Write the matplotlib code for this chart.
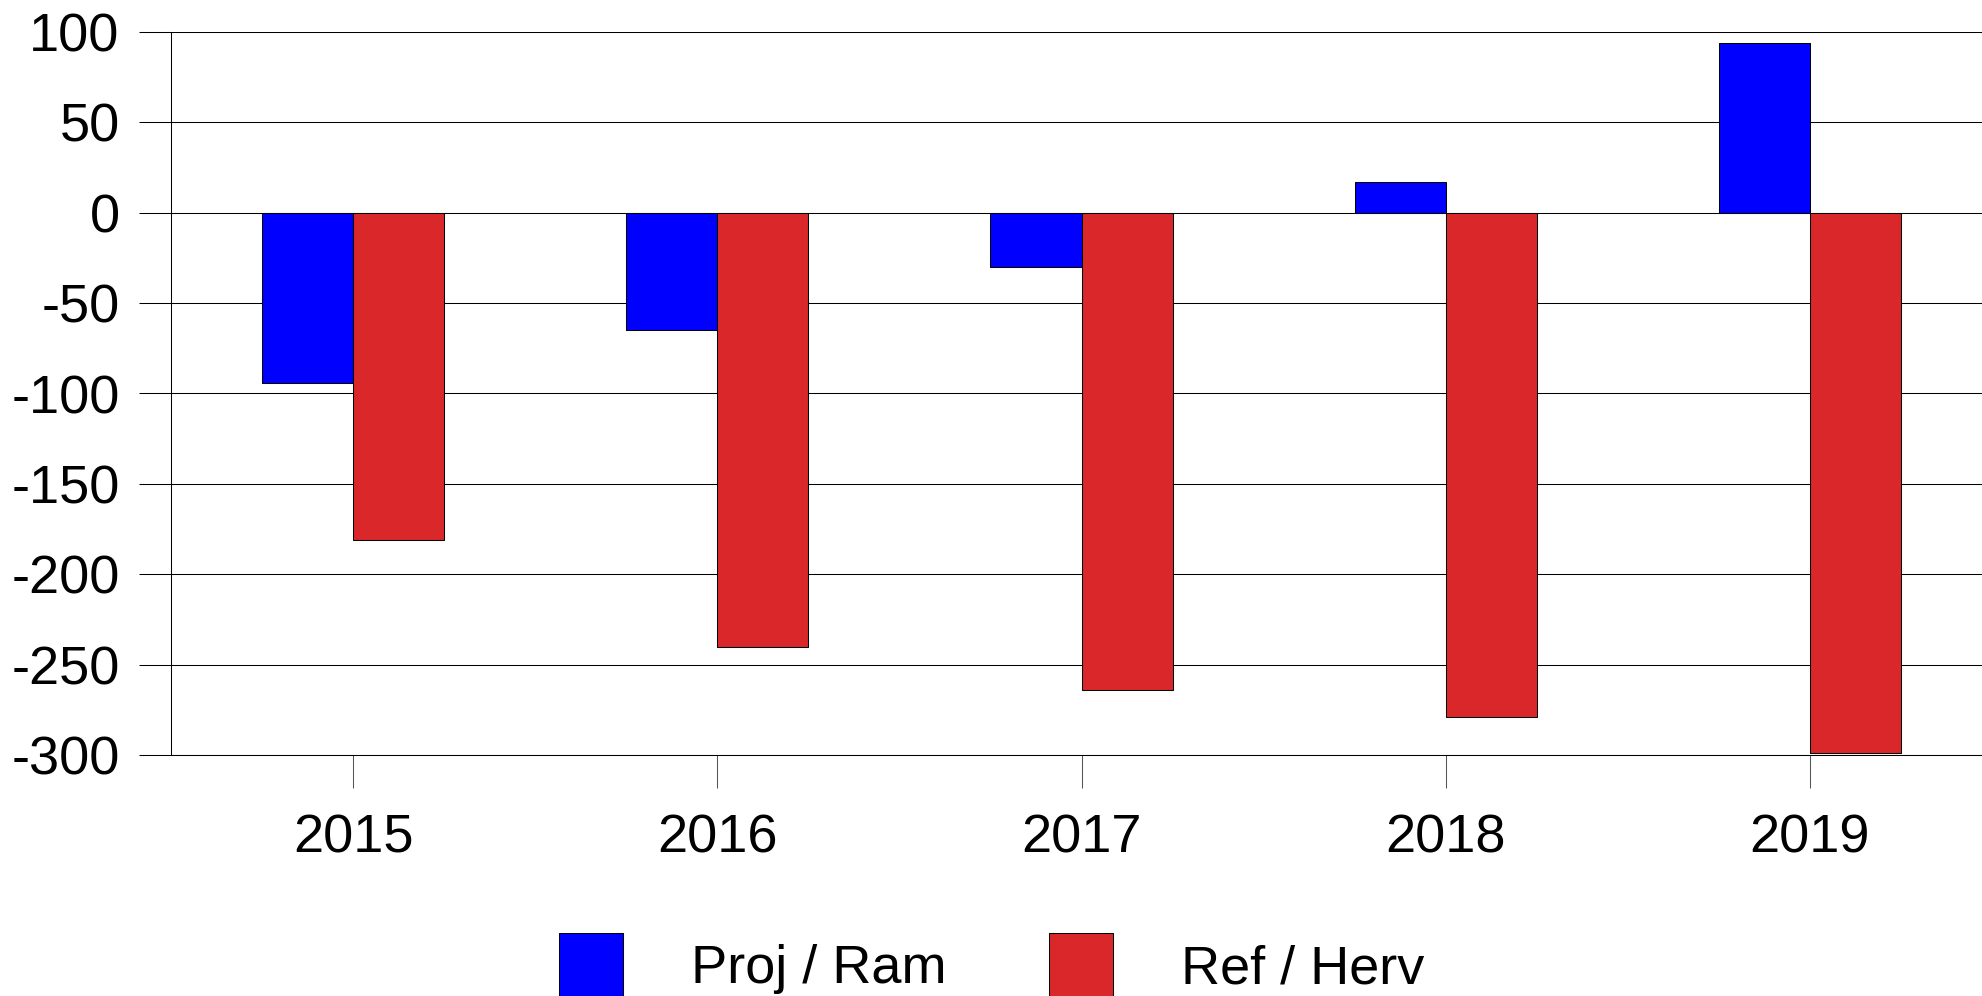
import numpy as np
import matplotlib
matplotlib.use("Agg")
import matplotlib.pyplot as plt
from matplotlib.patches import Patch

# data
years = ["2015", "2016", "2017", "2018", "2019"]
proj_ram = [-94, -65, -30, 17, 94]
ref_herv = [-181, -240, -264, -279, -299]
series_names = ["Proj / Ram", "Ref / Herv"]
y_ticks = [100, 50, 0, -50, -100, -150, -200, -250, -300]

plt.rcParams["font.family"] = ["Liberation Sans", "DejaVu Sans"]
plt.rcParams["axes.unicode_minus"] = False

fig = plt.figure(figsize=(19.83, 9.96), dpi=100)
ax = fig.add_axes([171 / 1983, 1 - 755 / 996, 1 - 171 / 1983, (755 - 32) / 996])

x = np.arange(len(years))
w = 0.25
blue = "#0000ff"
red = "#d9272a"
ax.bar(x - w / 2, proj_ram, w, color=blue, edgecolor="black", linewidth=0.75, zorder=3)
ax.bar(x + w / 2, ref_herv, w, color=red, edgecolor="black", linewidth=0.75, zorder=3)

ax.set_xlim(-0.5, 4.475)
ax.set_ylim(-300, 100)
ax.set_yticks(y_ticks)
ax.set_xticks(x)
ax.set_xticklabels(years)

# horizontal grid, ticks stick out to the left
ax.yaxis.grid(True, color="black", linewidth=0.75, zorder=0)
ax.set_axisbelow(True)
ax.tick_params(axis="y", length=23, width=0.75, color="black", pad=14, labelsize=39)
ax.tick_params(axis="x", length=24, width=0.75, color="#555555", pad=18, labelsize=39)

for side in ["top", "right"]:
    ax.spines[side].set_visible(False)
for side in ["left", "bottom"]:
    ax.spines[side].set_color("black")
    ax.spines[side].set_linewidth(0.75)

handles = [Patch(facecolor=blue, edgecolor="black", linewidth=0.75),
           Patch(facecolor=red, edgecolor="black", linewidth=0.75)]
fig.legend(handles, series_names, loc="center", bbox_to_anchor=(0.5, 0.031),
           ncol=2, frameon=False, fontsize=39, handlelength=1.18, handleheight=1.45,
           handletextpad=1.25, columnspacing=1.9, borderpad=0)

fig.savefig("out.png", dpi=100)
